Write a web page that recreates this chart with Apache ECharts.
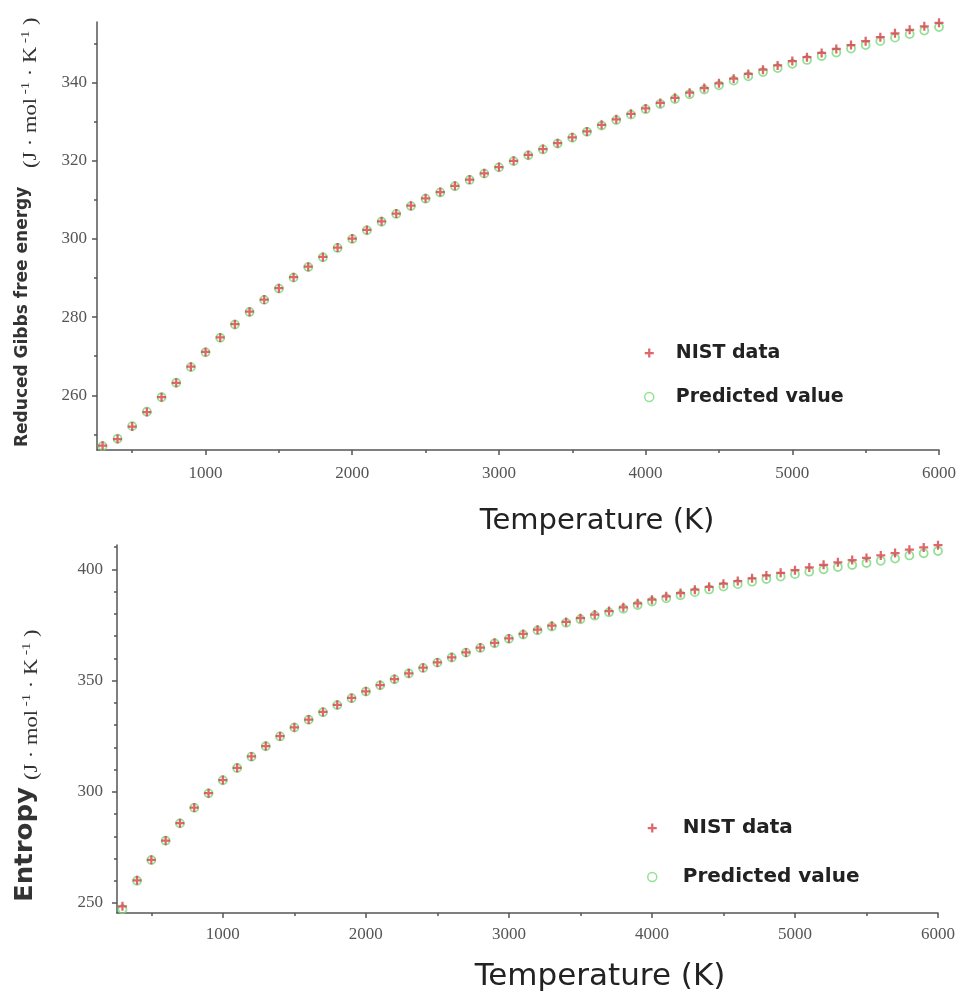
<!DOCTYPE html>
<html lang="en">
<head>
    <meta charset="UTF-8">
    <title>Reduced Gibbs free energy and entropy</title>
    <script src="https://cdn.jsdelivr.net/npm/echarts@6.0.0/dist/echarts.min.js"></script>
    <style>
        html, body { margin: 0; padding: 0; background: #fff; }
    </style>
</head>

<body>
<div id="main" style="width: 959px;height:992px;"></div>
</body>

<script type="text/javascript">

        // temperatures (K)
        var temps = [298.15, 400, 500, 600, 700, 800, 900, 1000, 1100, 1200, 1300, 1400, 1500, 1600, 1700, 1800, 1900, 2000,
            2100, 2200, 2300, 2400, 2500, 2600, 2700, 2800, 2900, 3000, 3100, 3200, 3300, 3400, 3500, 3600, 3700, 3800, 3900, 4000,
            4100, 4200, 4300, 4400, 4500, 4600, 4700, 4800, 4900, 5000, 5100, 5200, 5300, 5400, 5500, 5600, 5700, 5800, 5900, 6000];

        // reduced Gibbs free energy (J/mol/K)
        var gibbsNist = [247.1, 248.8, 252.0, 255.7, 259.5, 263.2, 267.3, 271.1, 274.8, 278.2, 281.4, 284.5, 287.4, 290.2, 292.9, 295.4, 297.8, 300.1,
            302.3, 304.5, 306.5, 308.5, 310.4, 312.0, 313.6, 315.2, 316.8, 318.4, 320.0, 321.5, 323.0, 324.5, 326.0, 327.5, 329.2, 330.6, 332.0, 333.4,
            334.8, 336.1, 337.4, 338.6, 339.8, 341.0, 342.2, 343.3, 344.4, 345.5, 346.5, 347.6, 348.6, 349.6, 350.6, 351.6, 352.6, 353.5, 354.4, 355.3];
        var gibbsPred = [247.0, 248.9, 252.1, 255.8, 259.5, 263.2, 267.2, 271.0, 274.7, 278.1, 281.3, 284.4, 287.3, 290.1, 292.8, 295.3, 297.7, 300.0,
            302.2, 304.4, 306.4, 308.4, 310.3, 311.9, 313.5, 315.1, 316.7, 318.3, 319.9, 321.4, 322.9, 324.4, 325.9, 327.4, 329.0, 330.4, 331.8, 333.2,
            334.5, 335.8, 337.0, 338.2, 339.3, 340.5, 341.6, 342.7, 343.7, 344.8, 345.8, 346.8, 347.7, 348.7, 349.6, 350.6, 351.5, 352.4, 353.3, 354.2];

        // entropy (J/mol/K)
        var entropyNist = [248.5, 260.2, 269.4, 278.1, 285.9, 292.9, 299.4, 305.3, 310.8, 315.9, 320.6, 325.0, 329.0, 332.5, 335.9, 339.1, 342.2, 345.2,
            348.0, 350.7, 353.3, 355.8, 358.2, 360.5, 362.7, 364.9, 367.0, 369.0, 371.0, 372.9, 374.7, 376.4, 378.1, 379.7, 381.3, 383.0, 384.8, 386.4,
            387.9, 389.4, 390.9, 392.2, 393.6, 394.8, 396.0, 397.3, 398.5, 399.7, 400.9, 402.1, 403.2, 404.2, 405.2, 406.3, 407.4, 408.9, 409.9, 410.9];
        var entropyPred = [247.2, 260.0, 269.3, 278.0, 285.8, 292.8, 299.3, 305.2, 310.7, 315.8, 320.5, 324.9, 328.9, 332.4, 335.8, 339.0, 342.1, 345.1,
            347.9, 350.6, 353.2, 355.7, 358.1, 360.4, 362.6, 364.7, 366.8, 368.8, 370.7, 372.6, 374.3, 376.0, 377.6, 379.2, 380.7, 382.3, 384.0, 385.6,
            387.0, 388.4, 389.8, 391.0, 392.3, 393.4, 394.5, 395.7, 396.8, 397.9, 399.0, 400.1, 401.1, 402.0, 402.9, 403.9, 404.9, 406.3, 407.3, 408.3];

        // tick values
        var tempMajorTicks = [1000, 2000, 3000, 4000, 5000, 6000];
        var tempMinorTicks = [500, 1500, 2500, 3500, 4500, 5500];
        var gibbsMajorTicks = [260, 280, 300, 320, 340];
        var gibbsMinorTicks = [250, 270, 290, 310, 330, 350];
        var entropyMajorTicks = [250, 300, 350, 400];
        var entropyMinorTicks = [260, 270, 280, 290, 310, 320, 330, 340, 360, 370, 380, 390, 410];

        var plusPath = 'path://M3,0H5V3H8V5H5V8H3V5H0V3H3Z';
        var red = '#d8404a';
        var green = '#79d879';
        var axisColor = '#555';

        function pairs(xs, ys) {
            return xs.map(function (x, i) { return [x, ys[i]]; });
        }

        function mainAxis(gridIndex, min, max, ticks, margin) {
            return {
                type: 'value', gridIndex: gridIndex, min: min, max: max,
                axisLine: {show: true, onZero: false, lineStyle: {color: axisColor, width: 1.5}},
                axisTick: {show: true, length: 5, customValues: ticks, lineStyle: {color: axisColor, width: 1.5}},
                axisLabel: {
                    customValues: ticks, margin: margin, fontFamily: 'Liberation Serif', fontSize: 17, color: '#555',
                    formatter: function (v) { return String(v); }
                },
                splitLine: {show: false}
            };
        }

        function minorAxis(gridIndex, min, max, ticks) {
            return {
                type: 'value', gridIndex: gridIndex, min: min, max: max,
                axisLine: {show: false, onZero: false},
                axisTick: {show: true, length: 3, customValues: ticks, lineStyle: {color: axisColor, width: 1.5}},
                axisLabel: {show: false},
                splitLine: {show: false}
            };
        }

        var xAxes = [mainAxis(0, 260, 6000, tempMajorTicks, 15), mainAxis(1, 260, 6000, tempMajorTicks, 13),
            minorAxis(0, 260, 6000, tempMinorTicks), minorAxis(1, 260, 6000, tempMinorTicks)];
        var yAxes = [mainAxis(0, 246, 355.5, gibbsMajorTicks, 10), mainAxis(1, 245.5, 411, entropyMajorTicks, 14),
            minorAxis(0, 246, 355.5, gibbsMinorTicks), minorAxis(1, 245.5, 411, entropyMinorTicks)];
        xAxes.forEach(function (a) { a.position = 'bottom'; });
        yAxes.forEach(function (a) { a.position = 'left'; });

        function predSeries(idx, data) {
            return {
                name: 'Predicted value', type: 'scatter', xAxisIndex: idx, yAxisIndex: idx,
                symbol: 'circle', symbolSize: 8, z: 2,
                itemStyle: {color: 'rgba(255,255,255,0)', borderColor: green, borderWidth: 1.8},
                data: data
            };
        }

        function nistSeries(idx, data) {
            return {
                name: 'NIST data', type: 'scatter', xAxisIndex: idx, yAxisIndex: idx,
                symbol: plusPath, symbolSize: 9, z: 3,
                itemStyle: {color: red},
                data: data
            };
        }

        function legend(left, top, gap, size, pad) {
            return {
                orient: 'vertical', left: left, top: top, padding: 0, itemGap: gap,
                itemWidth: 9, itemHeight: 9, selectedMode: false,
                data: [
                    {name: 'NIST data', icon: plusPath, itemStyle: {color: red}},
                    {name: 'Predicted value', icon: 'circle', itemStyle: {color: 'rgba(255,255,255,0)', borderColor: green, borderWidth: 1.5}}
                ],
                textStyle: {fontFamily: 'DejaVu Sans', fontWeight: 'bold', fontSize: size, color: '#222', lineHeight: 22, padding: [0, 0, 0, pad]}
            };
        }

        var unitRich = {
            a: {fontFamily: 'Liberation Serif', fontSize: 18, lineHeight: 22, fill: '#333'},
            s: {fontFamily: 'Liberation Serif', fontSize: 12, lineHeight: 12, verticalAlign: 'top', fill: '#333'}
        };
        var unitText = '{a|(J · mol}{s| -1}{a| · K}{s| -1}{a| )}';

        var myChart = echarts.init(document.getElementById('main'));

        var option = {
            animation: false,
            grid: [
                {left: 97, top: 22, width: 843, height: 428},
                {left: 117, top: 545, width: 821, height: 368}
            ],
            xAxis: xAxes,
            yAxis: yAxes,
            legend: [legend(644, 342, 22, 19, 17), legend(647, 817, 27, 20, 21)],
            series: [
                predSeries(0, pairs(temps, gibbsPred)),
                nistSeries(0, pairs(temps, gibbsNist)),
                predSeries(1, pairs(temps, entropyPred)),
                nistSeries(1, pairs(temps, entropyNist))
            ],
            graphic: [
                {type: 'text', x: 597, y: 521, style: {text: 'Temperature (K)', font: '29px "DejaVu Sans"', fill: '#222', align: 'center', verticalAlign: 'middle'}},
                {type: 'text', x: 600, y: 977, style: {text: 'Temperature (K)', font: '31px "DejaVu Sans"', fill: '#222', align: 'center', verticalAlign: 'middle'}},
                {type: 'text', x: 23, y: 447, rotation: Math.PI / 2, style: {text: 'Reduced Gibbs free energy', font: 'bold 17px "DejaVu Sans"', fill: '#333', align: 'left', verticalAlign: 'middle'}},
                {type: 'text', x: 31, y: 168, rotation: Math.PI / 2, scaleX: 1.25, style: {text: unitText, rich: unitRich, align: 'left', verticalAlign: 'middle'}},
                {type: 'text', x: 25, y: 902, rotation: Math.PI / 2, scaleX: 1.04, style: {text: 'Entropy', font: 'bold 25px "DejaVu Sans"', fill: '#333', align: 'left', verticalAlign: 'middle'}},
                {type: 'text', x: 32, y: 780, rotation: Math.PI / 2, scaleX: 1.25, style: {text: unitText, rich: unitRich, align: 'left', verticalAlign: 'middle'}}
            ]
        };

        myChart.setOption(option);
</script>
</html>
